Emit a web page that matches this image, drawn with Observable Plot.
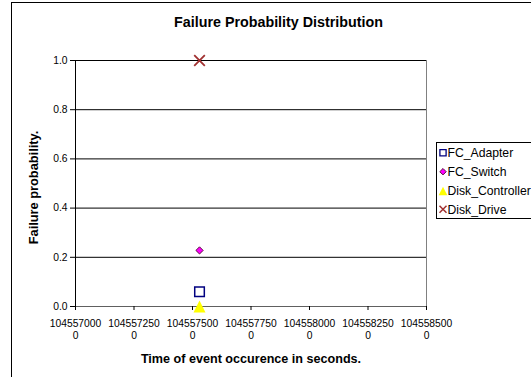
<!DOCTYPE html>
<html><head><meta charset="utf-8">
<script src="https://cdn.jsdelivr.net/npm/d3@7"></script>
<script src="https://cdn.jsdelivr.net/npm/@observablehq/plot@0.6"></script>
<style>
html,body{margin:0;padding:0;background:#fff;}
#wrap{position:relative;width:531px;height:377px;overflow:hidden;font-family:"Liberation Sans",Arial,sans-serif;}
#border{position:absolute;left:11px;top:2px;width:600px;height:420px;border:1px solid #000;box-sizing:border-box;}
#chart{position:absolute;left:0;top:0;}
#legend{position:absolute;left:436px;top:142px;width:140px;height:77px;border:1px solid #000;box-sizing:border-box;background:#fff;}
</style></head><body><div id="wrap"><div id="border"></div><div id="chart"></div><div id="legend"></div></div>
<script>
// ---- data ----
const series = ["FC_Adapter", "FC_Switch", "Disk_Controller", "Disk_Drive"];
const eventTimes = [1045575300, 1045575300, 1045575300, 1045575300];
const probabilities = [0.06, 0.228, 0.0, 1.0];
const xTicks = [1045570000, 1045572500, 1045575000, 1045577500, 1045580000, 1045582500, 1045585000];
const yTicks = [0.0, 0.2, 0.4, 0.6, 0.8, 1.0];
const chartTitle = "Failure Probability Distribution";
const xTitle = "Time of event occurence in seconds.";
const yTitle = "Failure probability.";

// ---- symbols ----
const half = s => Math.sqrt(s / Math.PI);
const shapes = {
  square: {draw(c, s) { const r = half(s); c.rect(-r, -r, 2 * r, 2 * r); }},
  diamond: {draw(c, s) { const r = half(s); c.moveTo(0, -r); c.lineTo(r, 0); c.lineTo(0, r); c.lineTo(-r, 0); c.closePath(); }},
  triangle: {draw(c, s) { const r = half(s); c.moveTo(0, -r); c.lineTo(r, r); c.lineTo(-r, r); c.closePath(); }},
  cross: {draw(c, s) { const r = half(s); c.moveTo(-r, -r); c.lineTo(r, r); c.moveTo(r, -r); c.lineTo(-r, r); }}
};
const styles = [
  {symbol: shapes.square, r: 4.8, fill: "none", stroke: "#000080", strokeWidth: 1.5, lr: 3.1, lsw: 1.3},
  {symbol: shapes.diamond, r: 3.6, fill: "#ff00ff", stroke: "#5a1040", strokeWidth: 1, lr: 3.2, lsw: 1},
  {symbol: shapes.triangle, r: 6, fill: "#ffff00", stroke: "none", strokeWidth: 0, lr: 4.3, lsw: 0},
  {symbol: shapes.cross, r: 5.3, fill: "none", stroke: "#a03030", strokeWidth: 1.8, lr: 3.5, lsw: 1.5}
];

const data = series.map((s, i) => ({series: s, time: eventTimes[i], p: probabilities[i]}));
const twoLine = d => { const s = String(d); return s.slice(0, 9) + "\n" + s.slice(9); };

const plot = Plot.plot({
  width: 531, height: 377,
  marginLeft: 75, marginRight: 105, marginTop: 60, marginBottom: 71,
  style: {fontFamily: "Liberation Sans, Arial, sans-serif", fontSize: "10.3px", color: "#000", background: "transparent", overflow: "visible"},
  x: {domain: [xTicks[0], xTicks[xTicks.length - 1]]},
  y: {domain: [yTicks[0], yTicks[yTicks.length - 1]]},
  marks: [
    Plot.ruleY(yTicks.slice(1), {stroke: "#000", strokeWidth: 1}),
    Plot.ruleX([xTicks[xTicks.length - 1]], {stroke: "#808080"}),
    Plot.ruleY([yTicks[0]], {stroke: "#606060"}),
    Plot.ruleX([xTicks[0]], {stroke: "#000"}),
    Plot.axisY(yTicks, {tickSize: 5, tickPadding: 3, tickFormat: d3.format(".1f"), label: null}),
    Plot.axisX(xTicks, {tickSize: 4, tickPadding: 8, tickFormat: twoLine, lineHeight: 1.18, label: null}),
    ...styles.map((st, i) => Plot.dot(data.filter((d, j) => j === i), {
      x: "time", y: "p", symbol: st.symbol, r: st.r, fill: st.fill, stroke: st.stroke, strokeWidth: st.strokeWidth
    })),
    Plot.text([chartTitle], {frameAnchor: "top", textAnchor: "middle", dx: 27.5, dy: -38.3, lineAnchor: "middle", fontWeight: "bold", fontSize: 14.3}),
    Plot.text([xTitle], {frameAnchor: "bottom", textAnchor: "middle", dy: 52, lineAnchor: "middle", fontWeight: "bold", fontSize: 12.6}),
    Plot.text([yTitle], {frameAnchor: "left", textAnchor: "middle", dx: -42, dy: 4, rotate: -90, lineAnchor: "middle", fontWeight: "bold", fontSize: 12.8})
  ]
});
document.getElementById("chart").appendChild(plot);

// ---- legend ----
const rowY = [10.7, 29.7, 49, 67.3];
const lsvg = d3.select("#legend").append("svg").attr("width", 140).attr("height", 77)
  .style("position", "absolute").style("left", "-1px").style("top", "-1px");
series.forEach((name, i) => {
  const st = styles[i];
  const p = d3.path();
  st.symbol.draw(p, st.lr * st.lr * Math.PI);
  lsvg.append("path").attr("d", p.toString())
    .attr("transform", `translate(7,${rowY[i]})`)
    .attr("fill", st.fill).attr("stroke", st.stroke).attr("stroke-width", st.lsw);
  lsvg.append("text").attr("x", 11.5).attr("y", rowY[i]).attr("dy", "0.35em")
    .attr("font-family", "Liberation Sans, Arial, sans-serif").attr("font-size", 12.2)
    .text(name);
});
</script>
</body></html>
